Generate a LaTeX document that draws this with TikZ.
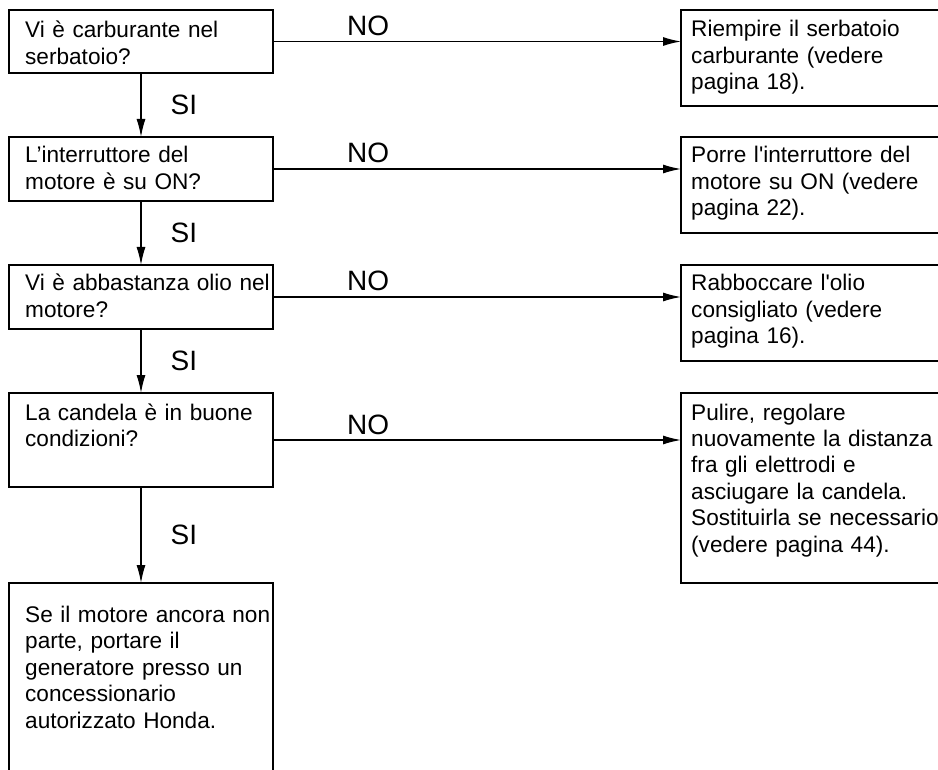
\documentclass[tikz,border=0pt]{standalone}
\usepackage{fontspec}
\setmainfont{Liberation Sans}
\usetikzlibrary{arrows.meta,calc}

\tikzset{
  box/.style={draw,line width=1.3pt,inner sep=0pt,outer sep=0pt,anchor=north west},
  qbox/.style={box,minimum width=264pt},
  abox/.style={box,minimum width=280pt},
  txt/.style={anchor=base west,inner sep=0pt,align=left,text width=255pt,font=\fontsize{22.6}{26.5}\selectfont},
  lbl/.style={inner sep=0pt,font=\fontsize{28}{30}\selectfont},
  flow/.style={line width=1.3pt,-{Latex[length=18pt,width=9pt]}}
}

\begin{document}
\begin{tikzpicture}[x=1pt,y=-1pt]
  \clip (0,0) rectangle (938,770);
  % domande (colonna sinistra)
  \node[qbox,minimum height=63pt]  (q1) at (9,10)  {};
  \node[qbox,minimum height=64pt]  (q2) at (9,137) {};
  \node[qbox,minimum height=64pt]  (q3) at (9,265) {};
  \node[qbox,minimum height=94pt]  (q4) at (9,393) {};
  \node[qbox,minimum height=250pt] (q5) at (9,583) {};
  \node[txt] (q1t) at ([xshift=16pt,yshift=-28pt]q1.north west) {Vi è carburante nel\\serbatoio?};
  \node[txt] (q2t) at ([xshift=16pt,yshift=-26pt]q2.north west) {L’interruttore del\\motore è su ON?};
  \node[txt] (q3t) at ([xshift=16pt,yshift=-26pt]q3.north west) {Vi è abbastanza olio nel\\motore?};
  \node[txt] (q4t) at ([xshift=16pt,yshift=-27pt]q4.north west) {La candela è in buone\\condizioni?};
  \node[txt] (q5t) at ([xshift=16pt,yshift=-39pt]q5.north west) {Se il motore ancora non\\parte, portare il\\generatore presso un\\concessionario\\autorizzato Honda.};
  % rimedi (colonna destra)
  \node[abox,minimum height=96pt]  (a1) at (681,10)  {};
  \node[abox,minimum height=96pt]  (a2) at (681,137) {};
  \node[abox,minimum height=96pt]  (a3) at (681,265) {};
  \node[abox,minimum height=190pt] (a4) at (681,393) {};
  \node[txt] (a1t) at ([xshift=10pt,yshift=-27pt]a1.north west) {Riempire il serbatoio\\carburante (vedere\\pagina 18).};
  \node[txt] (a2t) at ([xshift=10pt,yshift=-26pt]a2.north west) {Porre l\textquotesingle interruttore del\\motore su ON (vedere\\pagina 22).};
  \node[txt] (a3t) at ([xshift=10pt,yshift=-26pt]a3.north west) {Rabboccare l\textquotesingle olio\\consigliato (vedere\\pagina 16).};
  \node[txt] (a4t) at ([xshift=10pt,yshift=-27pt]a4.north west) {Pulire, regolare\\nuovamente la distanza\\fra gli elettrodi e\\asciugare la candela.\\Sostituirla se necessario\\(vedere pagina 44).};
  % frecce
  \foreach \a/\b in {q1/q2,q2/q3,q3/q4,q4/q5}
    \draw[flow] (\a.south) -- (\b.north) node[lbl,midway,anchor=west,xshift=29pt] (si-\a) {SI};
  \foreach \n in {1,...,4}
    \draw[flow] (q\n.east) -- (q\n.east -| a\n.west) node[lbl,pos=0.18,anchor=base west,yshift=6pt] (no-\n) {NO};
\end{tikzpicture}
\end{document}
